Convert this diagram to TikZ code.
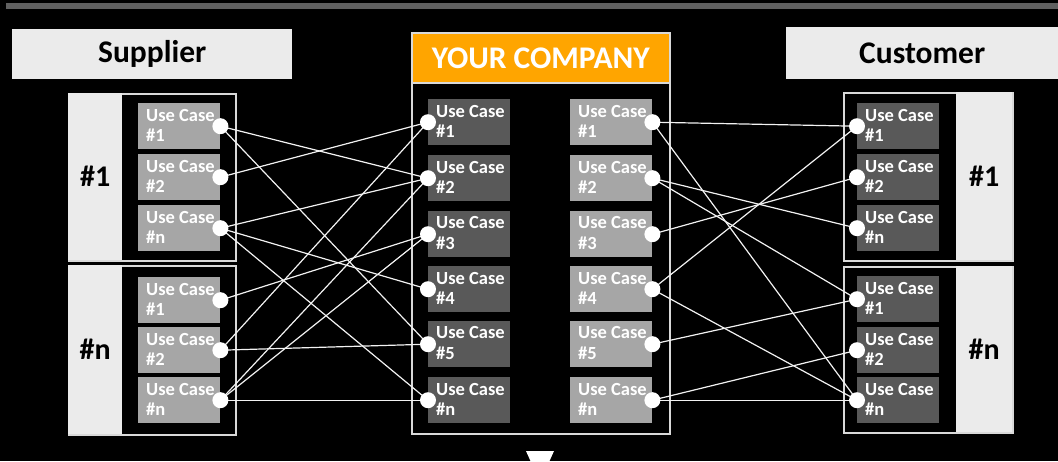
\documentclass[tikz,border=0pt]{standalone}
\usepackage{fontspec}
\setmainfont{Carlito}
\definecolor{barg}{HTML}{606060}
\definecolor{lightg}{HTML}{EBEBEB}
\definecolor{midg}{HTML}{A6A6A6}
\definecolor{darkg}{HTML}{595959}
\definecolor{orangec}{HTML}{FFA500}
\definecolor{borderg}{HTML}{D9D9D9}
\definecolor{linec}{HTML}{F2F2F2}
\begin{document}
\begin{tikzpicture}[x=1pt,y=-1pt,
  hdr/.style={anchor=north west, fill=lightg, inner sep=0, font=\fontsize{31.5}{36}\selectfont\bfseries, text=black},
  grp/.style={anchor=north west, draw=borderg, line width=1.6pt, inner sep=0},
  panel/.style={anchor=north west, fill=lightg, inner sep=0},
  biglab/.style={font=\fontsize{30}{34}\selectfont\bfseries, text=black, inner sep=0},
  uc/.style={anchor=north west, minimum width=82, minimum height=46, inner sep=0},
  uctext/.style={anchor=west, inner sep=0, align=left, font=\fontsize{18.5}{20.5}\selectfont\bfseries, text=white},
  dot/.style={circle, fill=white, minimum size=16, inner sep=0},
  link/.style={draw=linec, line width=1.2pt}]
\useasboundingbox (0,0) rectangle (1058,461);
\fill[black] (0,0) rectangle (1058,461);
\fill[barg] (6,3) rectangle (1058,9);
% headers
\node[hdr, minimum width=280, minimum height=50] (sup) at (12,29) {\raisebox{-2pt}{Supplier}};
\node[hdr, minimum width=272, minimum height=52] (cus) at (786,27) {\raisebox{-2pt}{Customer}};
% company
\node[grp, minimum width=258, minimum height=401] (comp) at (411,32) {};
\node[anchor=north west, fill=orangec, draw=borderg, line width=1.6pt, minimum width=258, minimum height=50, inner sep=0,
  font=\fontsize{31.5}{36}\selectfont\bfseries, text=white] (yc) at (411,32) {YOUR COMPANY};
% supplier groups
\node[grp, minimum width=167, minimum height=167] (sg1) at (68,93) {};
\node[panel, minimum width=54, minimum height=167] (sp1) at (68,93) {};
\node[biglab] (sl1) at (sp1.center) {\#1};
\node[grp, minimum width=167, minimum height=169] (sgn) at (68,265) {};
\node[panel, minimum width=54, minimum height=169] (spn) at (68,265) {};
\node[biglab] (sln) at (spn.center) {\#n};
% customer groups
\node[grp, minimum width=169, minimum height=168] (cg1) at (843,92) {};
\node[panel, minimum width=56, minimum height=168] (cp1) at (956,92) {};
\node[biglab] (cl1) at (cp1.center) {\#1};
\node[grp, minimum width=169, minimum height=166] (cgn) at (843,266) {};
\node[panel, minimum width=56, minimum height=166] (cpn) at (956,266) {};
\node[biglab] (cln) at (cpn.center) {\#n};
% boxes
\foreach \nm/\y/\lab in {s11/103/1, s12/154/2, s1n/205/n, sn1/277/1, sn2/327/2, snn/377/n}{
  \node[uc, fill=midg] (\nm) at (138,\y) {};
  \node[uctext] (\nm-t) at ([xshift=8pt,yshift=1pt]\nm.west) {Use Case\\\#\lab};}
\foreach \nm/\y/\lab in {l1/99/1, l2/155/2, l3/211/3, l4/266/4, l5/321/5, ln/377/n}{
  \node[uc, fill=darkg] (\nm) at (428,\y) {};
  \node[uctext] (\nm-t) at ([xshift=8pt,yshift=1pt]\nm.west) {Use Case\\\#\lab};}
\foreach \nm/\y/\lab in {r1/99/1, r2/155/2, r3/211/3, r4/266/4, r5/321/5, rn/377/n}{
  \node[uc, fill=midg] (\nm) at (570,\y) {};
  \node[uctext] (\nm-t) at ([xshift=8pt,yshift=1pt]\nm.west) {Use Case\\\#\lab};}
\foreach \nm/\y/\lab in {c11/103/1, c12/154/2, c1n/205/n, cn1/276/1, cn2/327/2, cnn/377/n}{
  \node[uc, fill=darkg] (\nm) at (857,\y) {};
  \node[uctext] (\nm-t) at ([xshift=8pt,yshift=1pt]\nm.west) {Use Case\\\#\lab};}
% links left
\foreach \a/\b in {s11/l2, s11/l5, s12/l1, s1n/l2, s1n/l4, s1n/ln, sn1/l3, sn2/l1, sn2/l5, snn/l2, snn/l3, snn/ln}
  \draw[link] (\a.east) -- (\b.west);
% links right
\foreach \a/\b in {r1/c11, r1/cnn, r2/c1n, r2/cn1, r3/c12, r4/c11, r4/cnn, r5/cn1, rn/cn2, rn/cnn}
  \draw[link] (\a.east) -- (\b.west);
% dots
\foreach \nm in {s11,s12,s1n,sn1,sn2,snn,r1,r2,r3,r4,r5,rn}
  \node[dot] (\nm-d) at (\nm.east) {};
\foreach \nm in {l1,l2,l3,l4,l5,ln,c11,c12,c1n,cn1,cn2,cnn}
  \node[dot] (\nm-d) at (\nm.west) {};
% arrow marker
\fill[white] (526,451) -- (554,451) -- (549.5,461) -- (530.5,461) -- cycle;
\end{tikzpicture}
\end{document}
